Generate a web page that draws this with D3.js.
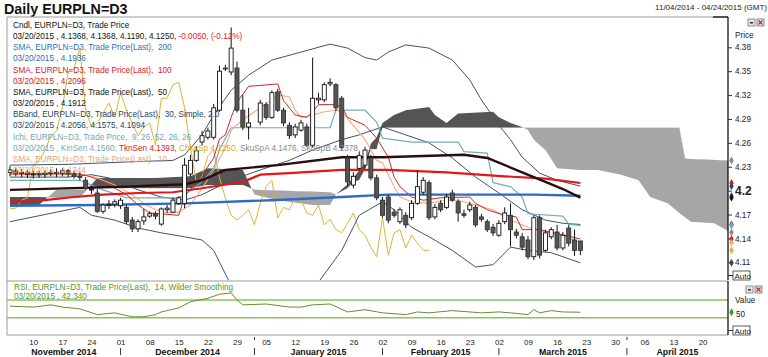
<!DOCTYPE html>
<html><head><meta charset="utf-8">
<script src="https://cdn.jsdelivr.net/npm/d3@7"></script>
<style>
body{margin:0;background:#fff;}
svg{display:block;font-family:Arial,"Liberation Sans",sans-serif;}
</style></head><body>
<svg id="c" width="768" height="357"></svg>
<script>
// ---------------- DATA ----------------
const candleOpen = [4.223,4.225,4.222,4.223,4.220,4.221,4.220,4.222,4.223,4.222,
4.225,4.221,4.218,4.213,4.201,4.197,4.174,4.182,4.183,4.181,
4.179,4.163,4.152,4.162,4.168,4.171,4.158,4.176,4.173,4.184,
4.184,4.221,4.238,4.261,4.267,4.267,4.301,4.354,4.349,4.354,
4.301,4.280,null,4.286,4.308,4.292,4.324,4.301,4.282,4.270,
4.276,4.280,4.257,4.314,4.314,4.334,4.333,4.316,4.241,4.207,
4.228,4.232,4.241,4.216,4.188,4.192,4.173,4.161,4.169,4.166,
4.184,4.198,4.210,4.167,4.184,4.179,4.197,4.186,4.171,4.176,
4.179,4.167,4.161,4.154,4.144,4.161,4.169,4.148,4.142,4.138,
4.117,4.166,4.125,4.142,4.148,4.128,4.153,4.138,4.1368];
const candleHigh = [4.231,4.228,4.227,4.226,4.225,4.225,4.226,4.227,4.228,4.228,
4.227,4.225,4.223,4.217,4.206,4.202,4.184,4.188,4.189,4.191,
4.182,4.167,4.164,4.177,4.174,4.174,4.179,4.182,4.191,4.193,
4.241,4.245,4.256,4.275,4.279,4.309,4.357,4.358,4.405,4.362,
4.320,4.304,null,4.314,4.311,4.326,4.328,4.304,4.286,4.284,
4.289,4.284,4.367,4.323,4.336,4.341,4.335,4.319,4.245,4.223,
4.249,4.255,4.245,4.220,4.192,4.195,4.177,4.179,4.173,4.188,
4.226,4.217,4.213,4.183,4.188,4.196,4.201,4.189,4.176,4.186,
4.182,4.171,4.164,4.158,4.163,4.179,4.184,4.152,4.147,4.143,
4.169,4.169,4.151,4.154,4.157,4.148,4.157,4.151,4.1368];
const candleLow = [4.218,4.218,4.217,4.216,4.215,4.216,4.216,4.218,4.217,4.218,
4.217,4.215,4.213,4.201,4.196,4.172,4.171,4.177,4.179,4.177,
4.158,4.148,4.148,4.157,4.166,4.164,4.156,4.172,4.172,4.182,
4.178,4.217,4.236,4.257,4.264,4.264,4.299,4.350,4.345,4.298,
4.276,4.264,null,4.282,4.289,4.290,4.299,4.281,4.265,4.266,
4.274,4.255,4.254,4.309,4.311,4.331,4.300,4.251,4.207,4.203,
4.226,4.228,4.213,4.188,4.166,4.159,4.166,4.158,4.153,4.163,
4.182,4.195,4.163,4.164,4.173,4.177,4.186,4.161,4.166,4.173,
4.154,4.161,4.148,4.143,4.142,4.158,4.130,4.140,4.125,4.114,
4.113,4.115,4.123,4.139,4.125,4.125,4.130,4.118,4.1190];
const candleClose = [4.226,4.222,4.223,4.220,4.221,4.220,4.222,4.223,4.222,4.225,
4.221,4.218,4.217,4.203,4.202,4.174,4.182,4.183,4.186,4.188,
4.161,4.152,4.161,4.167,4.171,4.168,4.177,4.178,4.188,4.191,
4.232,4.238,4.250,4.269,4.275,4.304,4.350,4.353,4.379,4.301,
4.280,4.285,null,4.310,4.292,4.323,4.301,4.285,4.269,4.280,
4.285,4.257,4.316,4.316,4.333,4.336,4.304,4.254,4.211,4.218,
4.244,4.251,4.216,4.191,4.169,4.163,4.169,4.176,4.157,4.184,
4.205,4.213,4.166,4.179,4.176,4.192,4.188,4.172,4.169,4.182,
4.157,4.164,4.151,4.147,4.159,4.172,4.151,4.144,4.129,4.117,
4.166,4.119,4.147,4.151,4.128,4.144,4.134,4.125,4.1250];

// indicator readings: [trading-day index, value]
const sma200 = [[0,4.181],[15,4.182],[30,4.184],[45,4.188],[57,4.192],[65,4.195],[80,4.195],[90,4.195],[98,4.1936]];
const sma100 = [[0,4.186],[6,4.188],[11,4.192],[16,4.195],[22,4.197],[28,4.198],[33,4.203],[40,4.211],[43,4.220],[48,4.222],[57,4.226],[65,4.226],[75,4.223],[85,4.218],[92,4.215],[98,4.2096]];
const sma50 = [[0,4.201],[20,4.205],[30,4.208],[33,4.213],[37,4.226],[46,4.232],[57,4.242],[64,4.242],[78,4.245],[82,4.241],[88,4.223],[92,4.211],[95,4.202],[98,4.1912]];
const sma10 = [[0,4.220],[13,4.220],[15,4.216],[18,4.207],[21,4.195],[23,4.184],[25,4.176],[27,4.172],[29,4.173],[31,4.182],[33,4.203],[35,4.226],[37,4.254],[38,4.276],[40,4.289],[43,4.304],[45,4.314],[46,4.320],[48,4.318],[49,4.301],[50,4.292],[52,4.295],[54,4.299],[56,4.301],[57,4.299],[59,4.282],[61,4.264],[63,4.238],[64,4.235],[66,4.205],[67,4.192],[69,4.186],[72,4.184],[75,4.188],[77,4.188],[80,4.182],[83,4.176],[86,4.163],[89,4.154],[92,4.148],[95,4.144],[98,4.1344]];
const bbUpper = [[0,4.232],[10,4.233],[20,4.236],[28,4.238],[30,4.245],[33,4.270],[35,4.295],[38,4.326],[41,4.345],[45,4.364],[50,4.374],[55,4.384],[58,4.379],[61,4.367],[63,4.364],[65,4.374],[68,4.383],[72,4.379],[76,4.364],[79,4.339],[81,4.314],[84,4.282],[86,4.264],[88,4.242],[91,4.222],[94,4.213],[98,4.2056]];
const bbMiddle = [[0,4.217],[10,4.217],[14,4.220],[17,4.216],[22,4.201],[26,4.192],[30,4.188],[33,4.195],[38,4.213],[43,4.226],[48,4.238],[52,4.251],[57,4.264],[60,4.270],[64,4.280],[68,4.270],[72,4.260],[76,4.241],[80,4.217],[84,4.197],[88,4.176],[92,4.163],[95,4.159],[98,4.1575]];
const bbLower = [[0,4.161],[8,4.173],[12,4.179],[14,4.169],[18,4.163],[22,4.153],[26,4.147],[30,4.142],[33,4.138],[35,4.125],[36,4.110],[38,4.081],[45,4.063],[52,4.075],[57,4.125],[60,4.169],[64,4.186],[66,4.176],[69,4.154],[72,4.142],[76,4.125],[80,4.104],[83,4.107],[86,4.129],[89,4.125],[93,4.122],[98,4.1094]];
const kijun = [[0,4.213],[12,4.213],[16,4.201],[20,4.191],[29,4.191],[30,4.195],[33,4.211],[35,4.228],[36,4.252],[38,4.279],[55,4.279],[56,4.301],[61,4.301],[63,4.286],[64,4.266],[69,4.261],[77,4.261],[78,4.249],[82,4.247],[83,4.210],[86,4.205],[88,4.192],[89,4.171],[95,4.168],[96,4.158],[98,4.1560]];
const tenkan = [[0,4.221],[12,4.221],[14,4.217],[16,4.211],[18,4.203],[20,4.195],[22,4.182],[24,4.172],[29,4.169],[30,4.193],[32,4.210],[33,4.220],[35,4.241],[36,4.265],[37,4.270],[38,4.292],[39,4.311],[41,4.331],[46,4.334],[47,4.313],[49,4.295],[51,4.292],[52,4.299],[53,4.308],[56,4.308],[57,4.305],[58,4.292],[61,4.282],[63,4.266],[65,4.242],[66,4.217],[67,4.205],[69,4.192],[71,4.188],[74,4.191],[79,4.192],[80,4.184],[82,4.176],[85,4.169],[87,4.167],[88,4.151],[91,4.151],[98,4.1393]];
const senkouA = [[0,4.192],[5,4.192],[8,4.191],[12,4.191],[15,4.216],[25,4.216],[31,4.218],[34,4.228],[40,4.226],[42,4.195],[46,4.188],[52,4.182],[55,4.182],[56,4.195],[58,4.208],[59,4.216],[61,4.235],[62,4.259],[63,4.267],[64,4.285],[66,4.295],[68,4.301],[72,4.305],[73,4.295],[75,4.285],[77,4.297],[83,4.299],[84,4.292],[86,4.285],[88,4.280],[89,4.276],[90,4.264],[92,4.251],[94,4.228],[98,4.226],[101,4.226],[105,4.220],[108,4.213],[110,4.192],[113,4.184],[115,4.172],[117,4.161],[121,4.159],[123,4.151],[124,4.1476]];
const senkouB = [[0,4.182],[5,4.182],[8,4.201],[12,4.201],[15,4.203],[31,4.203],[34,4.207],[40,4.207],[42,4.201],[55,4.198],[56,4.195],[58,4.203],[59,4.211],[60,4.213],[61,4.227],[62,4.252],[63,4.252],[64,4.279],[115,4.279],[116,4.240],[124,4.2378]];
const rsi = [[0,56],[4,54],[7,59],[9,54],[12,50],[15,37],[18,41],[21,32],[23,32],[25,37],[26,43],[29,52],[31,66],[34,74],[36,83],[38,86],[39,70],[40,59],[44,61],[48,54],[50,54],[52,59],[55,61],[58,43],[61,48],[64,41],[68,37],[70,43],[72,41],[76,46],[79,43],[81,41],[84,43],[86,41],[89,37],[90,48],[91,41],[93,46],[95,43],[98,42.34]];

const priceTicks = [4.11,4.14,4.17,4.2,4.23,4.26,4.29,4.32,4.35,4.38];
const monthLabels = ["November 2014","December 2014","January 2015","February 2015","March 2015","April 2015"];

// ---------------- LAYOUT ----------------
const svg = d3.select("#c");
const X0 = 7, X1 = 728, MT = 17, MB = 280, RT = 281, RB = 335;
const dates = d3.timeDay.range(new Date(2014,10,4), new Date(2015,3,25)).filter(d => d.getDay() % 6 !== 0);
const N = dates.length;
const x = d3.scaleLinear().domain([0, N - 1]).range([10, 10 + 5.82 * (N - 1)]);
const y = d3.scaleLinear().domain([4.11, 4.38]).range([262.3, 47.3]);
const yr = d3.scaleLinear().domain([30, 70]).range([317.7, 300]);

const defs = svg.append("defs");
defs.append("clipPath").attr("id","mainClip").append("rect").attr("x",X0+1).attr("y",MT+1).attr("width",X1-X0-1).attr("height",MB-MT-1);

// title
svg.append("text").attr("x",4).attr("y",13.5).attr("font-size",14.3).attr("font-weight","bold").attr("fill","#111").text("Daily EURPLN=D3");
svg.append("text").attr("x",767).attr("y",10).attr("text-anchor","end").attr("font-size",8).attr("fill","#222").text("11/04/2014 - 04/24/2015 (GMT)");

// frames
const frame = svg.append("g").attr("stroke","#9a9a9a").attr("fill","none");
frame.append("path").attr("d",`M${X1},${MT}H${X0}V${RB}H${X1}`);
frame.append("path").attr("d",`M${X0},${RT}H${X1}`);

const main = svg.append("g").attr("clip-path","url(#mainClip)");
const line = d3.line().x(d => x(d[0])).y(d => y(d[1]));

// Ichimoku cloud: polygon A forward + B backward, split by B line
const polyD = line(senkouA) + "L" + senkouB.slice().reverse().map(d => `${x(d[0])},${y(d[1])}`).join("L") + "Z";
const bTop = line(senkouB) + `L${x(124)+20},${y(senkouB[senkouB.length-1][1])}L${x(124)+20},0L${x(0)-20},0L${x(0)-20},${y(senkouB[0][1])}Z`;
const bBot = line(senkouB) + `L${x(124)+20},${y(senkouB[senkouB.length-1][1])}L${x(124)+20},400L${x(0)-20},400L${x(0)-20},${y(senkouB[0][1])}Z`;
defs.append("clipPath").attr("id","aboveB").append("path").attr("d",bTop);
defs.append("clipPath").attr("id","belowB").append("path").attr("d",bBot);
main.append("g").attr("clip-path","url(#aboveB)").append("path").attr("d",polyD).attr("fill","#555").attr("fill-rule","nonzero");
main.append("g").attr("clip-path","url(#belowB)").append("path").attr("d",polyD).attr("fill","#a6a6a6").attr("fill-rule","nonzero");

function drawLine(data, color, w){
  main.append("path").attr("d", line(data)).attr("fill","none").attr("stroke",color).attr("stroke-width",w).attr("stroke-linejoin","round");
}
// chikou = closes plotted 26 periods back
const chikou = candleClose.map((c,i) => [i-26, c]).filter(d => d[0] >= 0 && d[1] != null);
drawLine(chikou, "#dcb43a", 1);
drawLine(bbUpper, "#3e546c", 1);
drawLine(bbMiddle, "#3e546c", 1);
drawLine(bbLower, "#3e546c", 1);
drawLine(kijun, "#72adb6", 1.2);
drawLine(sma10, "#f3ab82", 1.1);
drawLine(tenkan, "#c92a2a", 1);
drawLine(sma200, "#2c6cc6", 2.4);
drawLine(sma100, "#e01818", 2.2);
drawLine(sma50, "#2a0e0e", 2.4);

// candles
const cd = candleOpen.map((o,i) => ({i, o, h:candleHigh[i], l:candleLow[i], c:candleClose[i]})).filter(d => d.o != null);
const cg = main.append("g");
cg.selectAll("line.w").data(cd).join("line").attr("x1",d=>x(d.i)).attr("x2",d=>x(d.i))
  .attr("y1",d=>y(d.h)).attr("y2",d=>y(d.l)).attr("stroke","#111").attr("stroke-width",1);
cg.selectAll("rect").data(cd).join("rect")
  .attr("x",d=>x(d.i)-2).attr("width",4)
  .attr("y",d=>y(Math.max(d.o,d.c))).attr("height",d=>Math.max(1,Math.abs(y(d.o)-y(d.c))))
  .attr("fill",d=>d.c>=d.o?"#fff":"#555").attr("stroke",d=>d.c>=d.o?"#111":"#333").attr("stroke-width",0.9);

// price axis
const ay = svg.append("g").attr("transform",`translate(${X1},0)`)
  .call(d3.axisRight(y).tickValues(priceTicks).tickSize(4).tickPadding(3).tickFormat(d => d === 4.2 ? "4.2" : d3.format(".2f")(d)));
ay.select(".domain").attr("d",`M0,${MT}V${MB}`).attr("stroke","#000").attr("stroke-width",1.2);
ay.selectAll(".tick line").attr("stroke","#333");
ay.selectAll(".tick text").attr("font-size",d => d===4.2?12:8.2).attr("font-weight",d=>d===4.2?"bold":"normal").attr("fill","#222").attr("font-family","Arial");
svg.append("path").attr("d",`M${X1-15},${MT}H${X1}`).attr("stroke","#000").attr("stroke-width",1.2);
svg.append("text").attr("x",735).attr("y",38).attr("font-size",8.2).attr("fill","#222").text("Price");

// value markers on axis
const markers = [[4.2378,"#8a8a8a"],[4.2096,"#e01818"],[4.2056,"#2b4a70"],[4.1936,"#2c6cc6"],[4.1912,"#2a0e0e"],[4.1575,"#3e546c"],[4.1560,"#72adb6"],[4.1476,"#8a8a8a"],[4.1393,"#c92a2a"],[4.1344,"#f3ab82"],[4.1250,"#dcb43a"],[4.1094,"#2b4a70"]];
svg.append("g").selectAll("path").data(markers).join("path")
  .attr("d", d3.symbol().type(d3.symbolDiamond).size(18))
  .attr("transform", d => `translate(${X1+3.5},${y(d[0])})`).attr("fill", d => d[1]);

// buttons
function buttons(bx, by){
  const g = svg.append("g");
  g.append("rect").attr("x",bx).attr("y",by).attr("width",7).attr("height",7).attr("fill","#e4e4e4").attr("stroke","#777").attr("stroke-width",0.8);
  g.append("rect").attr("x",bx+2).attr("y",by+3).attr("width",3).attr("height",1.5).attr("fill","#333");
  g.append("rect").attr("x",bx+9).attr("y",by).attr("width",7).attr("height",7).attr("fill","#e4e4e4").attr("stroke","#777").attr("stroke-width",0.8);
  g.append("path").attr("d",`M${bx+10.5},${by+1.5}L${bx+14.5},${by+5.5}M${bx+14.5},${by+1.5}L${bx+10.5},${by+5.5}`).attr("stroke","#b03030").attr("stroke-width",1.2);
}
buttons(748, 19);
buttons(746, 286);
function autoBox(bx, by){
  svg.append("rect").attr("x",bx).attr("y",by).attr("width",17).attr("height",9).attr("fill","#fff").attr("stroke","#333").attr("stroke-width",0.8);
  svg.append("text").attr("x",bx+1.5).attr("y",by+7.5).attr("font-size",8).attr("fill","#222").text("Auto");
  svg.append("path").attr("d",`M${X1},${by+4.5}H${bx}`).attr("stroke","#333");
}
autoBox(733, 271);

// legend
const legend = [
 [["Cndl, EURPLN=D3, Trade Price","#111"]],
 [["03/20/2015 , 4.1368, 4.1368, 4.1190, 4.1250, ","#111"],["-0.0050, (-0.12%)","#e02020"]],
 [["SMA, EURPLN=D3, Trade Price(Last),  200","#2f6db5"]],
 [["03/20/2015 , 4.1936","#2f6db5"]],
 [["SMA, EURPLN=D3, Trade Price(Last),  100","#d42020"]],
 [["03/20/2015 , 4.2096","#d42020"]],
 [["SMA, EURPLN=D3, Trade Price(Last),  50","#111"]],
 [["03/20/2015 , 4.1912","#111"]],
 [["BBand, EURPLN=D3, Trade Price(Last),  30, Simple, 2.0","#2b4660"]],
 [["03/20/2015 , 4.2056, 4.1575, 4.1094","#2b4660"]],
 [["Ichi, EURPLN=D3, Trade Price,  9, 26, 52, 26, 26","#6aaab4"]],
 [["03/20/2015 , KinSen 4.1560, ","#6aaab4"],["TknSen 4.1393, ","#d42020"],["ChkuSp 4.1250, ","#d8a820"],["SkuSpA 4.1476, SkuSpB 4.2378, ","#888"]],
 [["SMA, EURPLN=D3, Trade Price(Last),  10","#f0a070"]],
 [["03/20/2015 , 4.1344","#f0a070"]]
];
const lg = svg.append("g").attr("font-size",8.2);
legend.forEach((parts,k) => {
  const t = lg.append("text").attr("x",13).attr("y",28 + k*11.15).attr("xml:space","preserve");
  parts.forEach(p => t.append("tspan").attr("fill",p[1]).text(p[0]));
});

// RSI panel
const rsiG = svg.append("g");
rsiG.selectAll("line.lvl").data([70,30]).join("line").attr("x1",X0).attr("x2",X1).attr("y1",d=>yr(d)).attr("y2",d=>yr(d)).attr("stroke","#8cc35c").attr("stroke-width",1.6);
const rline = d3.line().x(d=>x(d[0])).y(d=>yr(d[1]));
rsiG.append("path").attr("d",rline(rsi)).attr("fill","none").attr("stroke","#6b8a2e").attr("stroke-width",1);
rsiG.append("text").attr("x",14).attr("y",290).attr("font-size",8.2).attr("fill","#4f9a2c").attr("xml:space","preserve").text("RSI, EURPLN=D3, Trade Price(Last),  14, Wilder Smoothing");
rsiG.append("text").attr("x",14).attr("y",299).attr("font-size",8.2).attr("fill","#4f9a2c").text("03/20/2015 , 42.340");
const ar = svg.append("g").attr("transform",`translate(${X1},0)`).call(d3.axisRight(yr).tickValues([50]).tickSize(0).tickPadding(8));
ar.select(".domain").attr("d",`M0,${RT}V${RB}`).attr("stroke","#000").attr("stroke-width",1.2);
ar.selectAll(".tick text").attr("font-size",8.2).attr("fill","#222").attr("dy","0.9em").attr("font-family","Arial");
svg.append("text").attr("x",735).attr("y",303).attr("font-size",8.2).attr("fill","#222").text("Value");
svg.append("path").attr("d",d3.symbol().type(d3.symbolDiamond).size(18)).attr("transform",`translate(${X1+3.5},${yr(42.34)})`).attr("fill","#3a9a2a");
autoBox(733, 326);

// date axis
const mondays = dates.map((d,i)=>[d,i]).filter(p => p[0].getDay() === 1).map(p => p[1]);
const fmt = d3.timeFormat("%d");
const ax = svg.append("g").attr("transform",`translate(0,${RB})`)
  .call(d3.axisBottom(x).tickValues(mondays).tickSize(0).tickPadding(4).tickFormat(i => fmt(dates[i])));
ax.select(".domain").remove();
ax.selectAll(".tick text").attr("font-size",8).attr("fill","#222").attr("font-family","Arial");

// month boundaries & labels
const monthStarts = [];
dates.forEach((d,i) => { if (i > 0 && d.getMonth() !== dates[i-1].getMonth()) monthStarts.push(i); });
const bounds = [X0, ...monthStarts.map(i => x(i)), X1];
monthStarts.forEach(i => {
  svg.append("line").attr("x1",x(i)).attr("x2",x(i)).attr("y1",348).attr("y2",355).attr("stroke","#333");
  if (dates[i].getDay() !== 1) svg.append("line").attr("x1",x(i)).attr("x2",x(i)).attr("y1",337).attr("y2",340).attr("stroke","#333");
});
monthLabels.forEach((m,k) => {
  svg.append("text").attr("x",(bounds[k]+bounds[k+1])/2).attr("y",354.5).attr("text-anchor","middle")
    .attr("font-size",8.8).attr("font-weight","bold").attr("fill","#111").text(m);
});
</script>
</body></html>
